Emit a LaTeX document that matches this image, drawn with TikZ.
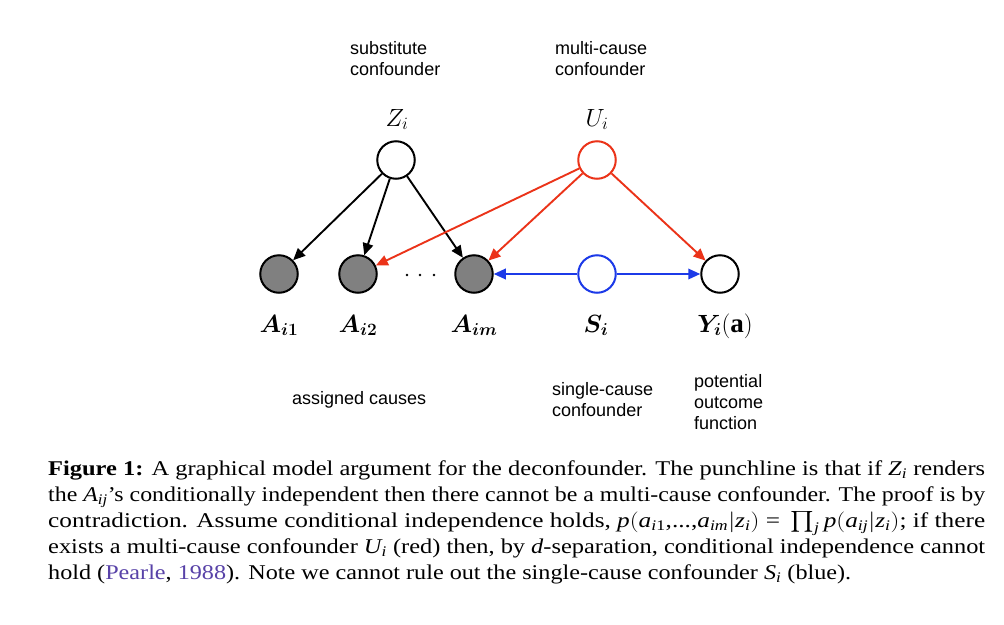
\documentclass[tikz,border=0pt]{standalone}
\usepackage{amsmath}
\usepackage{bm}
\usepackage{graphicx}
\usepackage{fontspec}
\setmainfont{Liberation Serif}
\newfontfamily\labelsans{Liberation Sans}
\usetikzlibrary{arrows.meta}
\definecolor{redc}{RGB}{235,51,25}
\definecolor{bluec}{RGB}{28,58,232}
\definecolor{fillg}{RGB}{128,128,128}
\definecolor{citec}{RGB}{88,66,168}
\newcommand\ti[1]{\text{\itshape #1}}
\newcommand\tu[1]{\text{\upshape #1}}
\begin{document}
\begin{tikzpicture}[x=1pt,y=-1pt,
  var/.style={circle,draw=black,line width=2pt,minimum size=37.5pt,inner sep=0pt,fill=white},
  obs/.style={var,fill=fillg},
  redvar/.style={var,draw=redc},
  bluevar/.style={var,draw=bluec},
  arr/.style={line width=1.9pt,-{Triangle[length=12pt,width=10.5pt]}},
  sanslbl/.style={font=\labelsans\fontsize{18}{21}\selectfont,align=left,anchor=base west,inner sep=0pt},
  toplbl/.style={font=\fontsize{26.5}{30}\selectfont,anchor=base,inner sep=0pt},
  mathlbl/.style={font=\fontsize{27}{30}\selectfont,anchor=base,inner sep=0pt},
  capline/.style={font=\fontsize{21}{26}\selectfont,anchor=base west,inner sep=0pt},
  dotn/.style={circle,fill=black,inner sep=0pt,minimum size=2.6pt}
]
\path[use as bounding box] (0,0) rectangle (1004,624);
\fill[white] (0,0) rectangle (1004,624);

% graph nodes
\node[var] (Z) at (396,160) {};
\node[redvar] (U) at (597,160) {};
\node[obs] (A1) at (279,274) {};
\node[obs] (A2) at (358,274) {};
\node[obs] (Am) at (474,274) {};
\node[bluevar] (S) at (597,274) {};
\node[var] (Y) at (720,274) {};
\node[dotn] (d1) at (407,275) {};
\node[dotn] (d2) at (420,275) {};
\node[dotn] (d3) at (434,275) {};

% edges
\draw[arr] (Z) -- (A1);
\draw[arr] (Z) -- (A2);
\draw[arr] (Z) -- (Am);
\draw[arr,redc] (U) -- (A2);
\draw[arr,redc] (U) -- (Am);
\draw[arr,redc] (U) -- (Y);
\draw[arr,bluec] (S) -- (Am);
\draw[arr,bluec] (S) -- (Y);

% math labels
\node[toplbl] (lZ) at (397,126) {$Z_i$};
\node[toplbl] (lU) at (597,126) {$U_i$};
\node[mathlbl] (lA1) at (279,332) {$\bm{A}_{\bm{i1}}$};
\node[mathlbl] (lA2) at (358,332) {$\bm{A}_{\bm{i2}}$};
\node[mathlbl] (lAm) at (474,332) {$\bm{A}_{\bm{im}}$};
\node[mathlbl] (lS) at (596,332) {$\bm{S}_{\bm{i}}$};
\node[mathlbl] (lY) at (725,332) {$\bm{Y}_{\bm{i}}(\mathbf{a})$};

% sans labels (anchor base = last line)
\node[sanslbl] (t1) at (350,75) {substitute\\confounder};
\node[sanslbl] (t2) at (555,75) {multi-cause\\confounder};
\node[sanslbl] (t3) at (292,404) {assigned causes};
\node[sanslbl] (t4) at (552,416) {single-cause\\confounder};
\node[sanslbl] (t5) at (694,429) {potential\\outcome\\function};

% caption
\node[capline] (c1) at (48,475) {\resizebox{937pt}{\height}{\textbf{Figure 1:} A graphical model argument for the deconfounder. The punchline is that if $\ti{Z}_{\ti{i}}$ renders}};
\node[capline] (c2) at (48,501) {\resizebox{937pt}{\height}{the $\ti{A}_{\ti{ij}}$’s conditionally independent then there cannot be a multi-cause confounder. The proof is by}};
\node[capline] (c3) at (48,527) {\resizebox{937pt}{\height}{contradiction. Assume conditional independence holds, $\ti{p}(\ti{a}_{\ti{i}\tu{1}}\tu{,...,}\ti{a}_{\ti{im}}|\ti{z}_{\ti{i}})\tu{ = }\prod_{\ti{j}}\ti{p}(\ti{a}_{\ti{ij}}|\ti{z}_{\ti{i}})$; if there}};
\node[capline] (c4) at (48,553) {\resizebox{937pt}{\height}{exists a multi-cause confounder $\ti{U}_{\ti{i}}$ (red) then, by $\ti{d}$-separation, conditional independence cannot}};
\node[capline] (c5) at (48,579) {\resizebox{803pt}{\height}{hold (\textcolor{citec}{Pearle}, \textcolor{citec}{1988}). Note we cannot rule out the single-cause confounder $\ti{S}_{\ti{i}}$ (blue).}};
\end{tikzpicture}
\end{document}
